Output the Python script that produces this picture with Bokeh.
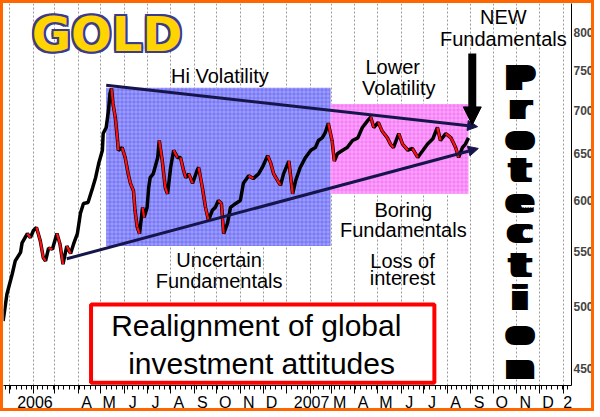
import pandas as pd
from bokeh.plotting import figure
from bokeh.models import (FixedTicker, DatetimeAxis, Arrow, NormalHead,
                          NumeralTickFormatter)
from bokeh.core.properties import value
from bokeh.embed import file_html
from bokeh.resources import INLINE

# gold price
dates = ["2005-12-23", "2005-12-28", "2006-01-04", "2006-01-08", "2006-01-15", "2006-01-17",
         "2006-01-24", "2006-01-28", "2006-02-01", "2006-02-05", "2006-02-10", "2006-02-14",
         "2006-02-17", "2006-02-21", "2006-02-26", "2006-03-04", "2006-03-08", "2006-03-12",
         "2006-03-17", "2006-03-22", "2006-03-26", "2006-03-31", "2006-04-04", "2006-04-08",
         "2006-04-14", "2006-04-20", "2006-04-24", "2006-04-28", "2006-05-03", "2006-05-04",
         "2006-05-08", "2006-05-11", "2006-05-13", "2006-05-15", "2006-05-17", "2006-05-20",
         "2006-05-23", "2006-05-24", "2006-05-29", "2006-06-02", "2006-06-06", "2006-06-09",
         "2006-06-13", "2006-06-15", "2006-06-18", "2006-06-21", "2006-06-25", "2006-06-27",
         "2006-07-01", "2006-07-03", "2006-07-05", "2006-07-09", "2006-07-15", "2006-07-17",
         "2006-07-21", "2006-07-25", "2006-07-28", "2006-08-01", "2006-08-05", "2006-08-10",
         "2006-08-14", "2006-08-18", "2006-08-21", "2006-08-25", "2006-08-30", "2006-09-05",
         "2006-09-07", "2006-09-12", "2006-09-16", "2006-09-20", "2006-09-25", "2006-09-29",
         "2006-10-03", "2006-10-07", "2006-10-10", "2006-10-15", "2006-10-19", "2006-10-26",
         "2006-11-01", "2006-11-05", "2006-11-12", "2006-11-18", "2006-11-25", "2006-11-30",
         "2006-12-07", "2006-12-11", "2006-12-15", "2006-12-20", "2006-12-24", "2006-12-28",
         "2007-01-04", "2007-01-06", "2007-01-09", "2007-01-13", "2007-01-19", "2007-01-26",
         "2007-02-02", "2007-02-08", "2007-02-12", "2007-02-17", "2007-02-21", "2007-02-25",
         "2007-03-02", "2007-03-05", "2007-03-09", "2007-03-16", "2007-03-22", "2007-03-29",
         "2007-04-05", "2007-04-11", "2007-04-18", "2007-04-22", "2007-04-26", "2007-05-02",
         "2007-05-07", "2007-05-14", "2007-05-18", "2007-05-22", "2007-05-29", "2007-06-03",
         "2007-06-10", "2007-06-16", "2007-06-23", "2007-06-30", "2007-07-06", "2007-07-13",
         "2007-07-19", "2007-07-23", "2007-07-30", "2007-08-06", "2007-08-12", "2007-08-16",
         "2007-08-21", "2007-08-25", "2007-08-29"]
prices = [488, 511, 529, 541, 549, 558,
          567, 563, 570, 573, 560, 544,
          541, 553, 552, 567, 557, 538,
          555, 548, 557, 567, 587, 597,
          598, 613, 624, 639, 654, 673,
          680, 700, 721, 727, 708, 692,
          665, 654, 657, 646, 628, 618,
          610, 590, 573, 567, 593, 583,
          593, 613, 624, 628, 646, 665,
          642, 613, 607, 635, 654, 646,
          646, 632, 624, 628, 618, 632,
          635, 613, 593, 580, 590, 593,
          600, 597, 567, 577, 593, 597,
          600, 618, 626, 623, 628, 635,
          648, 640, 628, 621, 616, 628,
          642, 628, 607, 621, 635, 646,
          654, 657, 665, 668, 674, 685,
          665, 642, 650, 654, 657, 665,
          668, 680, 688, 692, 680, 686,
          676, 668, 661, 657, 673, 661,
          654, 656, 646, 654, 661, 667,
          680, 665, 673, 668, 657, 646,
          657, 661, 668]

# shaded zones: hi volatility (blue), lower volatility (pink)
zone_left = ["2006-05-08", "2007-02-28"]
zone_right = ["2007-02-28", "2007-08-29"]
zone_top = [728, 708]
zone_bottom = [555, 607]
zone_fill = ["#9c9cf6", "#f7a6f7"]
zone_hatch = ["#4646ff", "#ff40ff"]

# triangle trend lines
trend_x0 = ["2006-05-08", "2006-03-17"]
trend_y0 = [731, 543]
trend_x1 = ["2007-09-10", "2007-09-11"]
trend_y1 = [681, 656]

notes = ["Hi Volatility", "Uncertain", "Fundamentals", "Lower", "Volatility", "Boring",
         "Fundamentals", "Loss of", "interest", "NEW", "Fundamentals"]
note_x = ["2006-10-05", "2006-10-04", "2006-10-04", "2007-05-21", "2007-05-29", "2007-06-04",
          "2007-06-04", "2007-06-03", "2007-06-03", "2007-10-14", "2007-10-14"]
note_y = [743, 542, 523, 754, 727, 590, 570, 541, 525, 822, 792]

protection = list("Protection")
protection_y = [739.5, 703.6, 667.2, 631.5, 599.9, 568.8, 536.6, 507.0, 477.5, 450.4]

month_labels = ["2006", "", "", "A", "M", "J", "J", "A", "S", "O", "N", "D",
                "2007", "", "M", "A", "M", "J", "J", "A", "S", "O", "N", "D", "2"]
price_ticks = [450, 500, 550, 600, 650, 700, 750, 800]


def ms(d):
    return float(pd.Timestamp(d).value // 10**6)


font = value("Liberation Sans")

p = figure(width=594, height=411, x_axis_type="datetime", y_axis_type="log",
           y_axis_location="right",
           x_range=(pd.Timestamp("2005-12-23 12:00"), pd.Timestamp("2008-01-11 22:00")),
           y_range=(437, 841), output_backend="svg", toolbar_location=None,
           min_border_left=0, min_border_top=0, min_border_right=26, min_border_bottom=29,
           outline_line_color=None)
p.styles = {"border": "3px solid #ff6600"}

# axes and grid
month_starts = pd.date_range("2006-01-01", "2008-01-01", freq="MS")
weeks = pd.date_range("2005-12-26", "2008-01-14", freq="W-MON")
month_ticks = [ms(d) for d in month_starts]
tick_axis = p.xaxis[0]
tick_axis.ticker = FixedTicker(ticks=month_ticks, minor_ticks=[ms(d) for d in weeks])
tick_axis.major_label_overrides = {t: "" for t in month_ticks}
tick_axis.major_tick_out = 8
tick_axis.major_tick_in = 0
tick_axis.minor_tick_out = 4
tick_axis.minor_tick_in = 0
tick_axis.major_label_text_font_size = "0px"
tick_axis.major_label_standoff = 0
tick_axis.axis_line_color = "black"
p.xgrid.ticker = FixedTicker(ticks=month_ticks)
p.xgrid.grid_line_color = "#9a9a9a"
p.xgrid.grid_line_dash = "2 2"
p.ygrid.grid_line_color = None

label_pos = []
for d, lab in zip(month_starts, month_labels):
    shift = 33 if len(lab) == 4 else (6 if lab == "2" else 11)
    label_pos.append(ms(d + pd.Timedelta(days=shift)))
label_axis = DatetimeAxis(ticker=FixedTicker(ticks=label_pos),
                          major_label_overrides=dict(zip(label_pos, month_labels)),
                          major_tick_out=0, major_tick_in=0, minor_tick_line_color=None,
                          axis_line_color=None, major_label_standoff=0,
                          major_label_text_font="Liberation Sans",
                          major_label_text_font_size="16px",
                          major_label_text_color="black")
p.add_layout(label_axis, "below")

p.yaxis.ticker = FixedTicker(ticks=price_ticks)
p.yaxis.formatter = NumeralTickFormatter(format="0")
p.yaxis.major_tick_out = 0
p.yaxis.major_tick_in = 0
p.yaxis.minor_tick_line_color = None
p.yaxis.major_label_standoff = 2
p.yaxis.major_label_text_font = "Liberation Sans"
p.yaxis.major_label_text_font_style = "bold"
p.yaxis.major_label_text_font_size = "12px"
p.yaxis.axis_line_color = "black"

# zones
p.quad(left=pd.to_datetime(zone_left), right=pd.to_datetime(zone_right), top=zone_top,
       bottom=zone_bottom, fill_color=zone_fill, line_color=None, hatch_pattern="+",
       hatch_color=zone_hatch, hatch_alpha=0.45, hatch_scale=4, hatch_weight=1)

# price line: black underlay, red overlay where falling
px = pd.to_datetime(dates)
p.line(px, prices, line_color="black", line_width=3.5)
down = [i for i in range(1, len(prices)) if prices[i] < prices[i - 1]]
p.segment(x0=[px[i - 1] for i in down], y0=[prices[i - 1] for i in down],
          x1=[px[i] for i in down], y1=[prices[i] for i in down],
          line_color="#ff1010", line_width=2.2)

# trend lines
for xa, ya, xb, yb in zip(trend_x0, trend_y0, trend_x1, trend_y1):
    p.add_layout(Arrow(x_start=ms(xa), y_start=ya, x_end=ms(xb), y_end=yb,
                       line_color="#15154a", line_width=3,
                       end=NormalHead(size=10, fill_color="#15154a", line_color="#15154a")))

# NEW Fundamentals arrow
p.add_layout(Arrow(x_start=ms("2007-09-03"), y_start=772, x_end=ms("2007-09-03"), y_end=683,
                   line_color="black", line_width=8,
                   end=NormalHead(size=18, fill_color="black", line_color="black")))

# notes
p.text(x=pd.to_datetime(note_x), y=note_y, text=notes, text_font=font,
       text_font_size="20px", text_align="center", text_baseline="middle",
       text_color="black")

# realignment box
p.quad(left=[pd.Timestamp("2006-04-18")], right=[pd.Timestamp("2007-07-15")], top=[502],
       bottom=[439], fill_color="white", line_color="#ff0000", line_width=4)
p.text(x=[pd.Timestamp("2006-11-22"), pd.Timestamp("2006-11-29")], y=[484, 454],
       text=["Realignment of global", "investment attitudes"], text_font=font,
       text_font_size="30px", text_align="center", text_baseline="middle",
       text_color="black")

# GOLD title with outline
gx = [pd.Timestamp("2006-05-09")]
for dx, dy in [(-2, -2), (2, -2), (-2, 2), (2, 2), (0, 2), (0, -2), (2, 0), (-2, 0)]:
    p.text(x=gx, y=[798], text=["GOLD"], text_font=value("DejaVu Sans"),
           text_font_style="bold", text_font_size="48px", text_align="center",
           text_baseline="middle", text_color="#3c3c8c", x_offset=dx, y_offset=dy)
p.text(x=gx, y=[798], text=["GOLD"], text_font=value("DejaVu Sans"),
       text_font_style="bold", text_font_size="48px", text_align="center",
       text_baseline="middle", text_color="#ffd400")

# Protection, stacked and widened
prot_x = [pd.Timestamp("2007-11-05")] * len(protection)
for dx in [-5, -2.5, 0, 2.5, 5]:
    p.text(x=prot_x, y=protection_y, text=protection, text_font=value("DejaVu Sans"),
           text_font_style="bold", text_font_size="33px", text_align="center",
           text_baseline="middle", text_color="black", x_offset=dx)

open("out.html", "w").write(file_html(p, INLINE))
